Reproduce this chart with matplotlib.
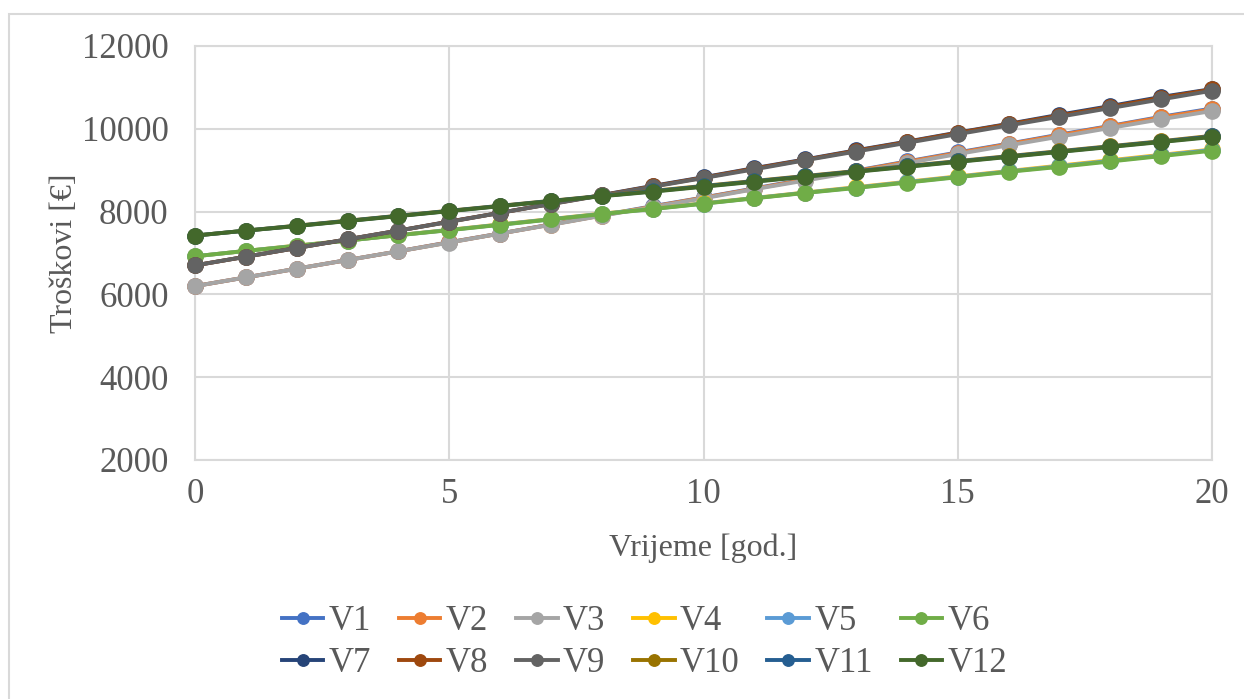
import matplotlib.pyplot as plt
from matplotlib.patches import Rectangle

years = list(range(21))

# (EUR)
v1 = [6200, 6410, 6620, 6830, 7040, 7260, 7470, 7690, 7910, 8130, 8340,
      8560, 8780, 8990, 9210, 9430, 9640, 9860, 10070, 10290, 10490]
v2 = [6200, 6410, 6620, 6830, 7040, 7255, 7470, 7685, 7905, 8120, 8335,
      8550, 8770, 8980, 9200, 9415, 9630, 9845, 10060, 10275, 10470]
v3 = [6200, 6410, 6620, 6830, 7040, 7250, 7470, 7680, 7900, 8110, 8320,
      8540, 8750, 8960, 9170, 9390, 9600, 9810, 10020, 10230, 10430]
v4 = [6920, 7050, 7180, 7300, 7430, 7560, 7690, 7820, 7950, 8070, 8200,
      8330, 8460, 8590, 8720, 8850, 8980, 9110, 9240, 9370, 9500]
v5 = [6920, 7050, 7175, 7300, 7430, 7555, 7685, 7815, 7945, 8065, 8195,
      8325, 8455, 8580, 8710, 8840, 8970, 9095, 9225, 9355, 9490]
v6 = [6920, 7050, 7170, 7300, 7430, 7550, 7680, 7810, 7940, 8060, 8190,
      8320, 8450, 8570, 8700, 8830, 8960, 9080, 9210, 9340, 9470]
v7 = [6700, 6910, 7120, 7330, 7540, 7760, 7970, 8190, 8400, 8620, 8830,
      9050, 9260, 9480, 9690, 9910, 10120, 10340, 10550, 10770, 10960]
v8 = [6700, 6910, 7120, 7330, 7540, 7755, 7970, 8185, 8395, 8610, 8820,
      9040, 9250, 9470, 9680, 9900, 10110, 10320, 10530, 10750, 10950]
v9 = [6700, 6910, 7120, 7330, 7540, 7750, 7970, 8180, 8390, 8600, 8810,
      9020, 9240, 9450, 9660, 9870, 10080, 10290, 10500, 10710, 10920]
v10 = [7420, 7540, 7660, 7780, 7900, 8020, 8140, 8260, 8380, 8500, 8620,
       8740, 8860, 8980, 9100, 9220, 9340, 9460, 9580, 9700, 9830]
v11 = [7420, 7540, 7655, 7775, 7895, 8015, 8135, 8255, 8375, 8490, 8610,
       8730, 8850, 8970, 9090, 9210, 9330, 9450, 9570, 9690, 9815]
v12 = [7420, 7540, 7650, 7770, 7890, 8010, 8130, 8250, 8370, 8480, 8600,
       8720, 8840, 8960, 9080, 9200, 9320, 9440, 9560, 9680, 9800]

series = [v1, v2, v3, v4, v5, v6, v7, v8, v9, v10, v11, v12]
labels = ["V1", "V2", "V3", "V4", "V5", "V6",
          "V7", "V8", "V9", "V10", "V11", "V12"]
colors = ["#4472C4", "#ED7D31", "#A5A5A5", "#FFC000", "#5B9BD5", "#70AD47",
          "#264478", "#9E480E", "#636363", "#997300", "#255E91", "#43682B"]

plt.rcParams["font.family"] = ["Liberation Serif", "DejaVu Serif"]
txt = "#595959"
grid = "#D9D9D9"

fig = plt.figure(figsize=(12.44, 6.99), dpi=100)
ax = fig.add_axes([0.1568, 0.342, 0.8175, 0.5922])

lines = []
for y, lab, c in zip(series, labels, colors):
    ln, = ax.plot(years, y, color=c, lw=2.8, marker="o", ms=11, label=lab,
                  clip_on=False, zorder=3)
    lines.append(ln)

ax.set_xlim(0, 20)
ax.set_ylim(2000, 12000)
ax.set_xticks([0, 5, 10, 15, 20])
ax.set_yticks(range(2000, 12001, 2000))
ax.grid(True, color=grid, lw=1.5)
ax.set_axisbelow(True)
for s in ax.spines.values():
    s.set_color(grid)
    s.set_linewidth(1.5)
ax.tick_params(length=0, labelsize=25, colors=txt)
ax.tick_params(axis="y", pad=19)
ax.tick_params(axis="x", pad=13)

ax.set_xlabel("Vrijeme [god.]", fontsize=23, color=txt, labelpad=16)
ax.set_ylabel("Troškovi [€]", fontsize=23, color=txt, labelpad=2)

# legend fills column by column, so interleave to get two rows V1-V6 / V7-V12
order = []
for i in range(6):
    order += [i, i + 6]
fig.legend([lines[i] for i in order], [labels[i] for i in order],
           loc="center", bbox_to_anchor=(0.518, 0.081), ncol=6,
           frameon=False, fontsize=25, labelcolor=txt, handlelength=1.2,
           handletextpad=0.15, columnspacing=0.8, markerscale=0.75,
           labelspacing=0.25)

fig.add_artist(Rectangle((9 / 1244, -0.1), 1.2, 1.1 - 14 / 699,
                         transform=fig.transFigure, fill=False,
                         edgecolor=grid, lw=1.5))

fig.savefig("out.png", dpi=100)
